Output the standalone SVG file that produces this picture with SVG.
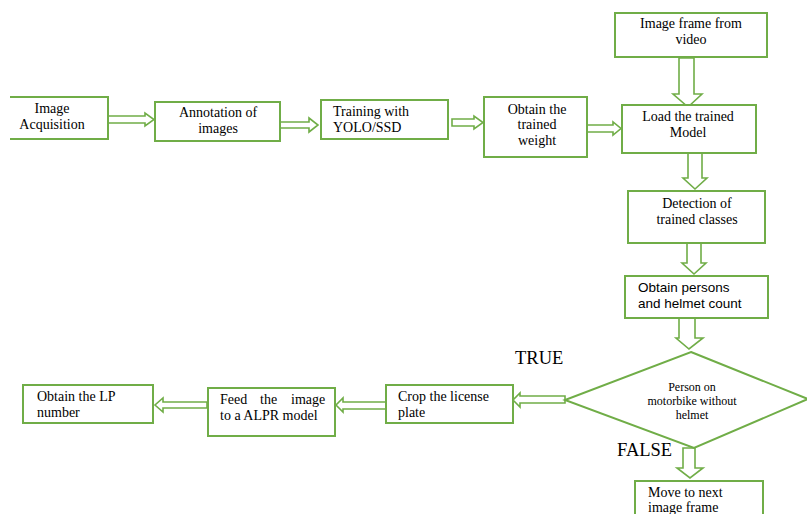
<svg xmlns="http://www.w3.org/2000/svg" width="807" height="514" viewBox="0 0 807 514">
<style>
.box{fill:#fff;stroke:#70AD47;stroke-width:2}
.arr{fill:#fff;stroke:#70AD47;stroke-width:1.6;stroke-linejoin:miter}
.t{font-family:"Liberation Serif","Times New Roman",serif;font-size:14px;fill:#000}
.c{text-anchor:middle}
.s{font-family:"Liberation Sans",Arial,sans-serif;font-size:13.5px;fill:#000}
.d{font-family:"Liberation Serif","Times New Roman",serif;font-size:12px;fill:#000;text-anchor:middle}
.lbl{font-family:"Liberation Serif","Times New Roman",serif;font-size:18.5px;fill:#000}
</style>
<rect width="807" height="514" fill="#fff"/>
<g id="connectors">
<polygon class="arr" points="108,116 145,116 145,113 154,119.5 145,126 145,123 108,123"/>
<polygon class="arr" points="276,122 309,122 309,118 318,125 309,132 309,128 276,128"/>
<polygon class="arr" points="452,119 474,119 474,116 483,122.5 474,129 474,126 452,126"/>
<polygon class="arr" points="587,125 613,125 613,122 621,128.5 613,135 613,132 587,132"/>
<polygon class="arr" points="679,58 694,58 694,94 702,94 688,107 673,94 679,94"/>
<polygon class="arr" points="688,153 702,153 702,178 707,178 695,189 683,178 688,178"/>
<polygon class="arr" points="687,243 701,243 701,263 706,263 694,274 682,263 687,263"/>
<polygon class="arr" points="679,318 695,318 695,338 703,338 689,349 676,338 679,338"/>
<polygon class="arr" points="683,448 695,448 695,468 703,468 690,478 677,468 683,468"/>
<polygon class="arr" points="565,396 520,396 520,393 513,400 520,407 520,403 565,403"/>
<polygon class="arr" points="386,402 343,402 343,398 336,405 343,412 343,409 386,409"/>
<polygon class="arr" points="207,402 163,402 163,398 155,405 163,412 163,408 207,408"/>
</g>
<g id="n-acq">
<path class="box" d="M10,97 H108 V139 H10"/>
<text class="t c" x="52" y="113">Image</text>
<text class="t c" x="52" y="129">Acquisition</text>
</g>
<g id="n-annot">
<rect class="box" x="155" y="102" width="125" height="39"/>
<text class="t c" x="218" y="117">Annotation of</text>
<text class="t c" x="218" y="133">images</text>
</g>
<g id="n-train">
<rect class="box" x="321" y="100" width="127" height="39"/>
<text class="t" x="333" y="116">Training with</text>
<text class="t" x="333" y="132">YOLO/SSD</text>
</g>
<g id="n-weight">
<rect class="box" x="484" y="97" width="103" height="60"/>
<text class="t c" x="537" y="114">Obtain the</text>
<text class="t c" x="537" y="129">trained</text>
<text class="t c" x="537" y="145">weight</text>
</g>
<g id="n-frame">
<rect class="box" x="615" y="13" width="152" height="44"/>
<text class="t c" x="691" y="28">Image frame from</text>
<text class="t c" x="691" y="44">video</text>
</g>
<g id="n-load">
<rect class="box" x="622" y="105" width="134" height="48"/>
<text class="t c" x="688" y="121">Load the trained</text>
<text class="t c" x="688" y="137">Model</text>
</g>
<g id="n-detect">
<rect class="box" x="628" y="191" width="137" height="52"/>
<text class="t c" x="697" y="208">Detection of</text>
<text class="t c" x="697" y="224">trained classes</text>
</g>
<g id="n-count">
<rect class="box" x="625" y="276" width="143" height="42"/>
<text class="s" x="638" y="292">Obtain persons</text>
<text class="s" x="638" y="308">and helmet count</text>
</g>
<g id="n-decision">
<polygon class="box" points="691,352 808,399 694,448 565,400"/>
<text class="d" x="692" y="391">Person on</text>
<text class="d" x="692" y="405">motorbike without</text>
<text class="d" x="692" y="419">helmet</text>
<text class="lbl" x="515" y="364">TRUE</text>
<text class="lbl" x="617" y="456">FALSE</text>
</g>
<g id="n-move">
<rect class="box" x="635" y="481" width="128" height="40"/>
<text class="t" x="648" y="497">Move to next</text>
<text class="t" x="648" y="512">image frame</text>
</g>
<g id="n-crop">
<rect class="box" x="386" y="385" width="127" height="38"/>
<text class="t" x="398" y="401">Crop the license</text>
<text class="t" x="398" y="417">plate</text>
</g>
<g id="n-feed">
<rect class="box" x="208" y="388" width="127" height="48"/>
<text class="t"><tspan x="220" y="404">Feed</tspan><tspan x="260" y="404">the</tspan><tspan x="291" y="404">image</tspan></text>
<text class="t" x="220" y="420">to a ALPR model</text>
</g>
<g id="n-lp">
<rect class="box" x="23" y="385" width="130" height="38"/>
<text class="t" x="37" y="401">Obtain the LP</text>
<text class="t" x="37" y="417">number</text>
</g>
</svg>
